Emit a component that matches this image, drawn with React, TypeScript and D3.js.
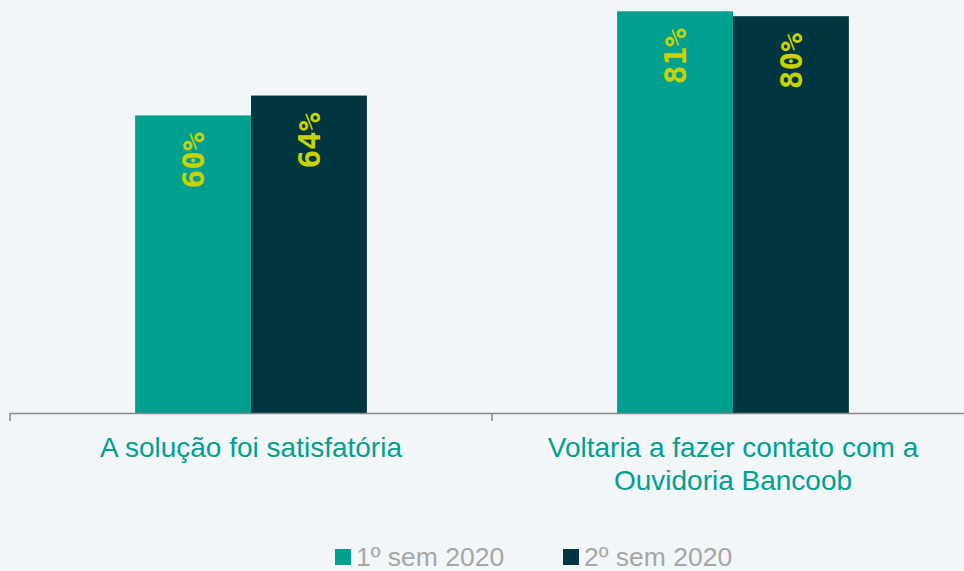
import React from 'react';
import * as d3 from 'd3';

const categories = [['A solução foi satisfatória'], ['Voltaria a fazer contato com a', 'Ouvidoria Bancoob']];
const series = ['1º sem 2020', '2º sem 2020'];
const sem1 = [60, 81];
const sem2 = [64, 80];
const colors = ['#00A091', '#003641'];

const W = 964;
const H = 571;

const App = () => {
  const baseY = 413;
  const x0 = d3.scaleBand<number>().domain([0, 1]).range([10, 974]).padding(0);
  const x1 = d3
    .scaleBand<number>()
    .domain([0, 1])
    .range([0, x0.bandwidth()])
    .paddingInner(0)
    .paddingOuter(1.08);
  const y = d3.scaleLinear().domain([0, 100]).range([baseY, baseY - 496]);

  const values = [sem1, sem2];

  return (
    <svg width={W} height={H} style={{ position: 'absolute', left: 0, top: 0 }}>
      <rect width={W} height={H} fill="#F2F6F8" />
      {categories.map((cat, i) => (
        <g key={i} transform={'translate(' + x0(i) + ',0)'}>
          {series.map((s, j) => {
            const v = values[j][i];
            const bx = x1(j);
            const cx = bx + x1.bandwidth() / 2;
            return (
              <g key={s}>
                <rect x={bx} y={y(v)} width={x1.bandwidth()} height={baseY - y(v)} fill={colors[j]} />
                <text
                  transform={'translate(' + (cx + 11) + ',' + (y(v) + 17) + ') rotate(-90)'}
                  textAnchor="end"
                  fontFamily="DejaVu Sans Mono"
                  fontWeight="bold"
                  fontSize={31}
                  fill="#C9D200"
                >
                  {v}%
                </text>
              </g>
            );
          })}
          {cat.map((line, k) => (
            <text
              key={k}
              x={x0.bandwidth() / 2}
              y={457 + k * 33}
              textAnchor="middle"
              fontFamily="Liberation Sans, Arial"
              fontSize={28}
              fill="#00A091"
            >
              {line}
            </text>
          ))}
        </g>
      ))}
      {/* axis */}
      <line x1={10} x2={W} y1={baseY + 0.5} y2={baseY + 0.5} stroke="#898989" strokeWidth={1.5} />
      {[0, 1, 2].map(t => (
        <line key={t} x1={10 + t * x0.step()} x2={10 + t * x0.step()} y1={baseY} y2={baseY + 8} stroke="#898989" strokeWidth={1.5} />
      ))}
      {/* legend */}
      {series.map((s, j) => (
        <g key={s} transform={'translate(' + (335 + j * 228) + ',0)'}>
          <rect x={0} y={549} width={16} height={16} fill={colors[j]} />
          <text x={21} y={566} fontFamily="Liberation Sans, Arial" fontSize={26.5} fill="#A6A6A6">
            {s}
          </text>
        </g>
      ))}
    </svg>
  );
};

export default App;
